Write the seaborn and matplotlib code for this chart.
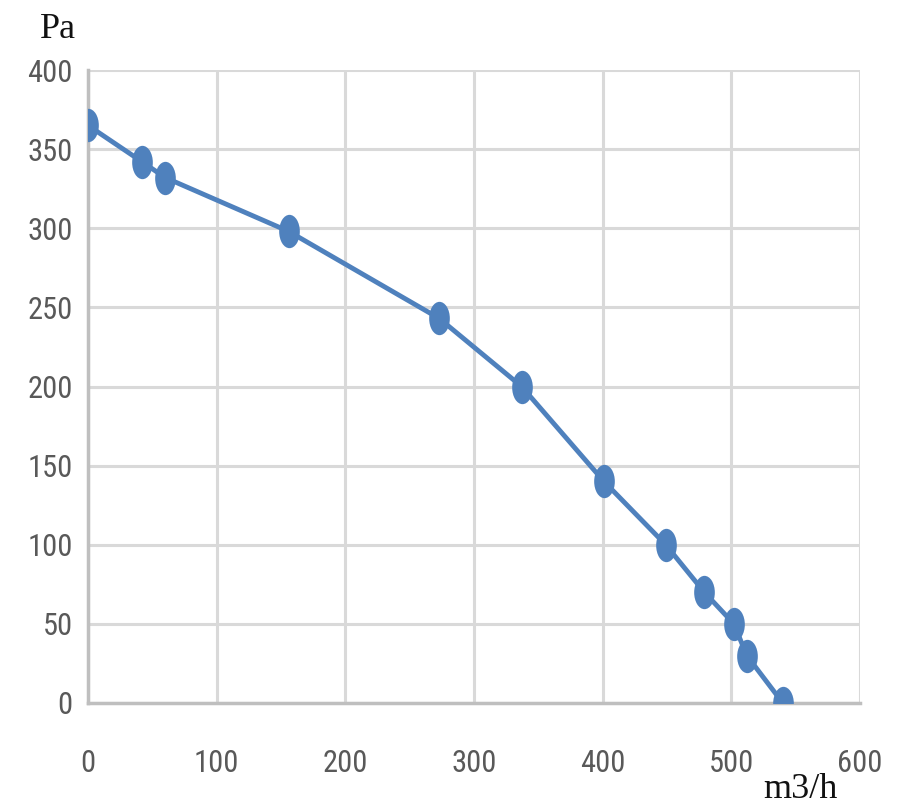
import matplotlib
matplotlib.use("Agg")
import matplotlib.pyplot as plt
import seaborn as sns
import pandas as pd
from matplotlib.path import Path
from matplotlib.transforms import Affine2D

flow = [0, 42, 60, 156, 273, 337, 401, 449, 479, 502, 512, 540]
pressure = [365, 342, 332, 298, 243, 200, 140, 100, 70, 50, 30, 0]
x_ticks = [0, 100, 200, 300, 400, 500, 600]
y_ticks = [0, 50, 100, 150, 200, 250, 300, 350, 400]

df = pd.DataFrame({"flow": flow, "pressure": pressure})

sns.set_style("white")
tick_font = ["Liberation Sans Narrow", "Roboto Condensed", "DejaVu Sans"]
serif_font = ["Liberation Serif", "DejaVu Serif"]

fig = plt.figure(figsize=(9, 8.08), dpi=100)
ax = fig.add_axes([88/900, 1 - 703/808, (860-88)/900, (703-70)/808])

ellipse = Path.unit_circle().transformed(Affine2D().scale(0.62, 1.0))
line_color = "#4F81BD"
sns.lineplot(data=df, x="flow", y="pressure", ax=ax, color=line_color,
             linewidth=3.5, marker=ellipse, markersize=24, markeredgewidth=0,
             sort=False, zorder=3)

ax.set_xlim(0, 600)
ax.set_ylim(0, 400)
ax.set_xticks(x_ticks)
ax.set_yticks(y_ticks)
ax.grid(True, color="#d9d9d9", linewidth=2.2)
ax.set_axisbelow(True)
for s in ["top", "right"]:
    ax.spines[s].set_visible(False)
for s in ["left", "bottom"]:
    ax.spines[s].set_color("#bfbfbf")
    ax.spines[s].set_linewidth(2.5)
ax.tick_params(axis="both", length=0, colors="#595959")
ax.tick_params(axis="y", pad=11)
ax.tick_params(axis="x", pad=33)
ax.set_xticklabels([str(v) for v in x_ticks], family=tick_font, fontsize=22, color="#595959")
ax.set_yticklabels([str(v) for v in y_ticks], family=tick_font, fontsize=22, color="#595959")
ax.set_xlabel("")
ax.set_ylabel("")

fig.text(40/900, 1 - 30/808, "Pa", family=serif_font, fontsize=26, color="#111111",
         ha="left", va="center")
fig.text(800/900, 1 - 790/808, "m3/h", family=serif_font, fontsize=26, color="#111111",
         ha="center", va="center")

fig.savefig("out.png", dpi=100)
